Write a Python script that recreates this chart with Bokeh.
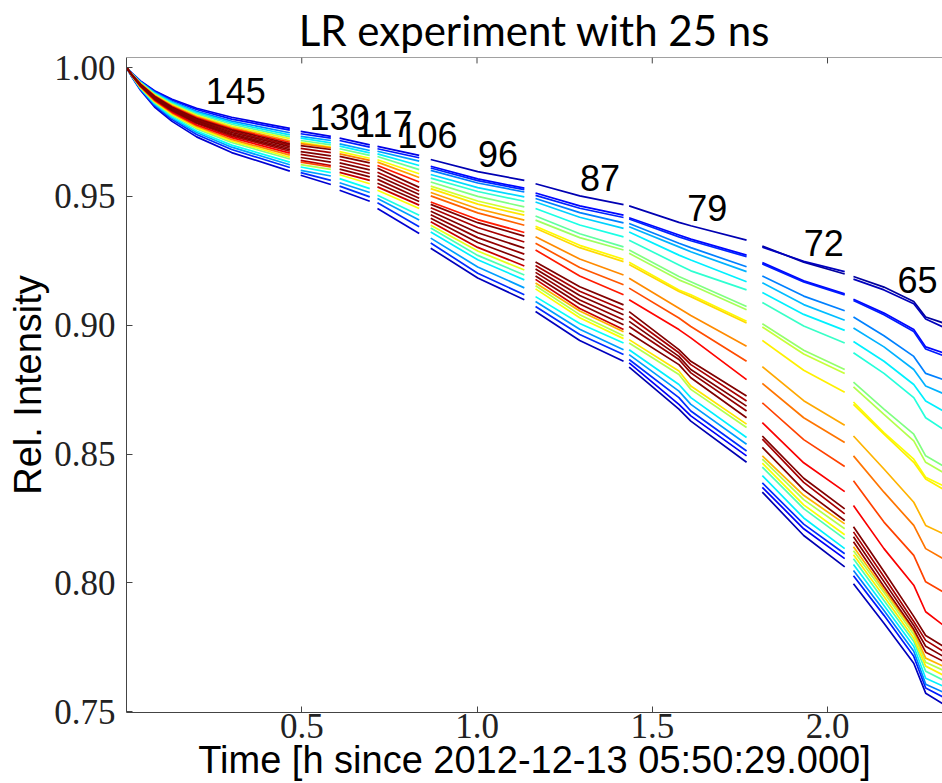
from bokeh.plotting import figure
from bokeh.models import ColumnDataSource, FixedTicker, PrintfTickFormatter, Range1d, Span
from bokeh.core.properties import value
from bokeh.embed import file_html
from bokeh.resources import INLINE

# ---- crossing-angle steps: one block of bunch curves per step ----
# times in h, relative intensity per bunch, colour index (0..1, jet) per bunch
seg1_t = [0.0, 0.015, 0.04, 0.08, 0.13, 0.20, 0.30, 0.466]
seg1_c = [0.10, 0.14, 0.25, 0.35, 0.45, 0.60, 0.72, 0.85, 1.00, 0.96, 1.00,
          0.98, 1.00, 0.95, 0.88, 0.74, 0.62, 0.50, 0.38, 0.28, 0.17, 0.08]
seg1_v = [
    [1.0, 0.9979, 0.9948, 0.9910, 0.9877, 0.9842, 0.9807, 0.9764],
    [1.0, 0.9978, 0.9946, 0.9908, 0.9873, 0.9837, 0.9800, 0.9757],
    [1.0, 0.9977, 0.9944, 0.9904, 0.9868, 0.9830, 0.9792, 0.9747],
    [1.0, 0.9977, 0.9943, 0.9901, 0.9864, 0.9825, 0.9786, 0.9739],
    [1.0, 0.9976, 0.9941, 0.9898, 0.9860, 0.9820, 0.9780, 0.9731],
    [1.0, 0.9975, 0.9939, 0.9895, 0.9856, 0.9815, 0.9773, 0.9724],
    [1.0, 0.9974, 0.9938, 0.9892, 0.9852, 0.9810, 0.9767, 0.9716],
    [1.0, 0.9974, 0.9936, 0.9890, 0.9849, 0.9806, 0.9762, 0.9710],
    [1.0, 0.9973, 0.9935, 0.9888, 0.9846, 0.9802, 0.9758, 0.9704],
    [1.0, 0.9973, 0.9934, 0.9885, 0.9843, 0.9798, 0.9753, 0.9699],
    [1.0, 0.9972, 0.9932, 0.9883, 0.9840, 0.9794, 0.9748, 0.9693],
    [1.0, 0.9972, 0.9931, 0.9881, 0.9837, 0.9790, 0.9743, 0.9687],
    [1.0, 0.9971, 0.9930, 0.9879, 0.9834, 0.9786, 0.9739, 0.9681],
    [1.0, 0.9971, 0.9929, 0.9877, 0.9831, 0.9783, 0.9734, 0.9675],
    [1.0, 0.9970, 0.9927, 0.9874, 0.9827, 0.9777, 0.9728, 0.9668],
    [1.0, 0.9969, 0.9925, 0.9871, 0.9823, 0.9772, 0.9721, 0.9660],
    [1.0, 0.9969, 0.9923, 0.9868, 0.9819, 0.9767, 0.9715, 0.9652],
    [1.0, 0.9968, 0.9922, 0.9865, 0.9815, 0.9762, 0.9709, 0.9645],
    [1.0, 0.9967, 0.9919, 0.9861, 0.9809, 0.9754, 0.9699, 0.9633],
    [1.0, 0.9966, 0.9917, 0.9857, 0.9804, 0.9748, 0.9691, 0.9623],
    [1.0, 0.9965, 0.9915, 0.9852, 0.9798, 0.9740, 0.9682, 0.9612],
    [1.0, 0.9964, 0.9912, 0.9847, 0.9791, 0.9731, 0.9670, 0.9598],
]

seg2_t = [0.497, 0.583]
seg2_c = [0.10, 0.15, 0.28, 0.36, 0.48, 0.62, 0.75, 1.00, 0.96, 1.00,
          0.98, 1.00, 0.94, 0.80, 0.55, 0.38, 0.28, 0.17, 0.08]
seg2_v = [
    [0.9752, 0.9733], [0.9743, 0.9726], [0.9733, 0.9717], [0.9726, 0.9708],
    [0.9717, 0.9700], [0.9710, 0.9691], [0.9705, 0.9688], [0.9697, 0.9682],
    [0.9686, 0.9670], [0.9674, 0.9657], [0.9663, 0.9645], [0.9651, 0.9633],
    [0.9640, 0.9620], [0.9633, 0.9614], [0.9623, 0.9605], [0.9614, 0.9592],
    [0.9601, 0.9579], [0.9592, 0.9562], [0.9582, 0.9546],
]

seg3_t = [0.608, 0.694]
seg3_c = [0.10, 0.15, 0.28, 0.36, 0.48, 0.62, 0.75, 1.00, 0.96, 1.00,
          0.98, 1.00, 0.93, 0.62, 0.38, 0.28, 0.17, 0.08]
seg3_v = [
    [0.9726, 0.9700], [0.9717, 0.9691], [0.9704, 0.9678], [0.9695, 0.9669],
    [0.9685, 0.9659], [0.9674, 0.9648], [0.9665, 0.9640], [0.9655, 0.9630],
    [0.9643, 0.9616], [0.9630, 0.9603], [0.9618, 0.9589], [0.9606, 0.9576],
    [0.9593, 0.9562], [0.9584, 0.9549], [0.9569, 0.9530], [0.9553, 0.9515],
    [0.9540, 0.9498], [0.9524, 0.9481],
]

seg4_t = [0.716, 0.835]
seg4_c = [0.10, 0.15, 0.28, 0.36, 0.48, 0.62, 0.72, 0.85, 1.00, 0.96,
          1.00, 0.98, 1.00, 0.93, 0.62, 0.40, 0.28, 0.17, 0.08]
seg4_v = [
    [0.9694, 0.9659], [0.9685, 0.9650], [0.9675, 0.9637], [0.9665, 0.9620],
    [0.9655, 0.9604], [0.9642, 0.9588], [0.9633, 0.9573], [0.9620, 0.9556],
    [0.9609, 0.9535], [0.9594, 0.9521], [0.9580, 0.9507], [0.9566, 0.9493],
    [0.9551, 0.9480], [0.9537, 0.9466], [0.9524, 0.9453], [0.9504, 0.9427],
    [0.9492, 0.9408], [0.9475, 0.9382], [0.9453, 0.9356],
]

seg5_t = [0.868, 1.002, 1.135]
seg5_c = [0.05, 0.13, 0.16, 0.25, 0.34, 0.42, 0.50, 0.58, 0.65, 0.72, 0.78, 0.85,
          1.00, 0.96, 1.00, 0.98, 1.00, 0.93, 0.60, 0.45, 0.36, 0.28, 0.17, 0.06]
seg5_v = [
    [0.9643, 0.9596, 0.9562], [0.9617, 0.9568, 0.9532], [0.9610, 0.9561, 0.9526],
    [0.9601, 0.9552, 0.9517], [0.9585, 0.9534, 0.9498], [0.9571, 0.9519, 0.9481],
    [0.9556, 0.9500, 0.9459], [0.9540, 0.9482, 0.9440], [0.9530, 0.9470, 0.9427],
    [0.9515, 0.9452, 0.9408], [0.9502, 0.9436, 0.9388], [0.9478, 0.9410, 0.9360],
    [0.9469, 0.9398, 0.9346], [0.9456, 0.9379, 0.9323], [0.9442, 0.9359, 0.9299],
    [0.9429, 0.9340, 0.9276], [0.9415, 0.9321, 0.9253], [0.9402, 0.9302, 0.9230],
    [0.9388, 0.9288, 0.9214], [0.9377, 0.9271, 0.9195], [0.9362, 0.9254, 0.9176],
    [0.9338, 0.9226, 0.9145], [0.9319, 0.9202, 0.9118], [0.9299, 0.9183, 0.9099],
]

seg6_t = [1.167, 1.293, 1.418]
seg6_c = [0.05, 0.13, 0.16, 0.25, 0.33, 0.40, 0.47, 0.53, 0.63, 0.66, 0.74, 0.79, 0.85,
          1.00, 0.96, 1.00, 0.98, 1.00, 0.93, 0.70, 0.55, 0.62, 0.38, 0.28, 0.17, 0.06]
seg6_v = [
    [0.9549, 0.9502, 0.9468], [0.9513, 0.9463, 0.9427], [0.9504, 0.9454, 0.9418],
    [0.9492, 0.9437, 0.9397], [0.9478, 0.9419, 0.9376], [0.9453, 0.9389, 0.9343],
    [0.9424, 0.9355, 0.9304], [0.9408, 0.9340, 0.9292], [0.9384, 0.9310, 0.9256],
    [0.9376, 0.9301, 0.9247], [0.9343, 0.9257, 0.9195], [0.9318, 0.9224, 0.9157],
    [0.9292, 0.9191, 0.9118], [0.9245, 0.9149, 0.9079], [0.9232, 0.9132, 0.9060],
    [0.9218, 0.9115, 0.9041], [0.9205, 0.9098, 0.9021], [0.9191, 0.9082, 0.9002],
    [0.9178, 0.9065, 0.8983], [0.9164, 0.9055, 0.8975], [0.9153, 0.9041, 0.8959],
    [0.9141, 0.9029, 0.8948], [0.9111, 0.9007, 0.8931], [0.9092, 0.8984, 0.8905],
    [0.9073, 0.8964, 0.8886], [0.9053, 0.8941, 0.8860],
]

seg7_t = [1.434, 1.576, 1.610, 1.769]
seg7_c = [0.05, 0.13, 0.16, 0.25, 0.30, 0.36, 0.42, 0.50, 0.54, 0.63, 0.66, 0.74, 0.80,
          0.87, 1.00, 0.96, 1.00, 0.98, 1.00, 0.65, 0.55, 0.36, 0.28, 0.17, 0.12, 0.05]
seg7_v = [
    [0.9463, 0.9399, 0.9386, 0.9330], [0.9417, 0.9350, 0.9334, 0.9272],
    [0.9412, 0.9343, 0.9328, 0.9266], [0.9395, 0.9318, 0.9301, 0.9227],
    [0.9382, 0.9304, 0.9285, 0.9208], [0.9362, 0.9272, 0.9253, 0.9169],
    [0.9330, 0.9234, 0.9211, 0.9137], [0.9292, 0.9189, 0.9169, 0.9073],
    [0.9279, 0.9176, 0.9157, 0.9060], [0.9244, 0.9137, 0.9118, 0.9015],
    [0.9236, 0.9131, 0.9111, 0.9009], [0.9182, 0.9066, 0.9038, 0.8918],
    [0.9144, 0.9028, 0.8995, 0.8860], [0.9099, 0.8983, 0.8951, 0.8789],
    [0.9053, 0.8905, 0.8860, 0.8725], [0.9034, 0.8893, 0.8847, 0.8706],
    [0.9015, 0.8879, 0.8828, 0.8686], [0.8995, 0.8867, 0.8815, 0.8667],
    [0.8970, 0.8847, 0.8796, 0.8641], [0.8944, 0.8822, 0.8764, 0.8616],
    [0.8931, 0.8809, 0.8751, 0.8603], [0.8905, 0.8770, 0.8719, 0.8564],
    [0.8886, 0.8744, 0.8693, 0.8538], [0.8867, 0.8719, 0.8667, 0.8512],
    [0.8854, 0.8693, 0.8648, 0.8493], [0.8837, 0.8674, 0.8628, 0.8468],
]

seg8_t = [1.814, 1.932, 2.049]
seg8_c = [0.03, 0.06, 0.13, 0.15, 0.25, 0.31, 0.36, 0.43, 0.52, 0.57, 0.64, 0.71, 0.76,
          0.81, 0.88, 1.00, 0.96, 1.00, 0.70, 0.55, 0.62, 0.45, 0.36, 0.17, 0.12, 0.05]
seg8_v = [
    [0.9307, 0.9245, 0.9199], [0.9303, 0.9248, 0.9208], [0.9243, 0.9172, 0.9122],
    [0.9238, 0.9168, 0.9118], [0.9191, 0.9113, 0.9056], [0.9165, 0.9080, 0.9019],
    [0.9127, 0.9042, 0.8980], [0.9088, 0.8997, 0.8931], [0.9006, 0.8903, 0.8828],
    [0.8993, 0.8888, 0.8813], [0.8941, 0.8825, 0.8740], [0.8839, 0.8707, 0.8612],
    [0.8774, 0.8641, 0.8545], [0.8699, 0.8556, 0.8452], [0.8622, 0.8466, 0.8354],
    [0.8570, 0.8406, 0.8287], [0.8558, 0.8390, 0.8268], [0.8526, 0.8361, 0.8242],
    [0.8493, 0.8340, 0.8229], [0.8480, 0.8323, 0.8210], [0.8465, 0.8303, 0.8187],
    [0.8449, 0.8288, 0.8171], [0.8416, 0.8252, 0.8133], [0.8388, 0.8228, 0.8113],
    [0.8371, 0.8210, 0.8094], [0.8352, 0.8184, 0.8062],
]

seg9_t = [2.074, 2.161, 2.246, 2.280, 2.330]
seg9_c = [0.03, 0.06, 0.13, 0.15, 0.25, 0.30, 0.36, 0.41, 0.50, 0.55, 0.62, 0.64, 0.70, 0.76,
          0.81, 0.88, 1.00, 0.96, 1.00, 0.98, 0.70, 0.55, 0.64, 0.45, 0.36, 0.25, 0.15, 0.06]
seg9_v = [
    [0.9189, 0.9148, 0.9092, 0.9032, 0.9009], [0.9179, 0.9137, 0.9083, 0.9024, 0.8993],
    [0.9101, 0.9047, 0.8983, 0.8916, 0.8893], [0.9096, 0.9041, 0.8976, 0.8908, 0.8882],
    [0.9032, 0.8959, 0.8879, 0.8813, 0.8789], [0.8989, 0.8916, 0.8828, 0.8764, 0.8735],
    [0.8937, 0.8860, 0.8770, 0.8706, 0.8667], [0.8893, 0.8813, 0.8719, 0.8641, 0.8596],
    [0.8779, 0.8674, 0.8577, 0.8493, 0.8454], [0.8761, 0.8654, 0.8551, 0.8468, 0.8429],
    [0.8702, 0.8583, 0.8480, 0.8410, 0.8377], [0.8693, 0.8577, 0.8468, 0.8403, 0.8364],
    [0.8570, 0.8442, 0.8313, 0.8223, 0.8191], [0.8493, 0.8352, 0.8223, 0.8133, 0.8094],
    [0.8396, 0.8236, 0.8107, 0.8004, 0.7965], [0.8300, 0.8133, 0.7991, 0.7888, 0.7836],
    [0.8218, 0.8044, 0.7870, 0.7796, 0.7754], [0.8198, 0.8024, 0.7850, 0.7777, 0.7735],
    [0.8179, 0.8005, 0.7835, 0.7754, 0.7715], [0.8160, 0.7986, 0.7820, 0.7731, 0.7696],
    [0.8140, 0.7974, 0.7812, 0.7708, 0.7677], [0.8125, 0.7963, 0.7800, 0.7692, 0.7661],
    [0.8109, 0.7947, 0.7785, 0.7677, 0.7642], [0.8094, 0.7932, 0.7773, 0.7657, 0.7623],
    [0.8071, 0.7912, 0.7754, 0.7630, 0.7599], [0.8048, 0.7893, 0.7735, 0.7607, 0.7576],
    [0.8028, 0.7874, 0.7715, 0.7592, 0.7557], [0.7997, 0.7843, 0.7688, 0.7572, 0.7530],
]

# crossing angle of each step, printed above its block
step_labels = ["145", "130", "117", "106", "96", "87", "79", "72", "65"]
step_label_t = [0.312, 0.608, 0.734, 0.859, 1.060, 1.351, 1.657, 1.989, 2.257]
step_label_y = [0.9910, 0.9807, 0.9782, 0.9740, 0.9663, 0.9572, 0.9453, 0.9321, 0.9176]

x_ticks = [0.5, 1.0, 1.5, 2.0]
y_ticks = [0.75, 0.80, 0.85, 0.90, 0.95, 1.00]

X_MIN, X_MAX = 0.0, 2.328
Y_MIN, Y_MAX = 0.7497, 1.0039


def jet(c):
    """matplotlib-style 'jet' colour for c in [0, 1]."""
    def ch(v):
        return int(round(255 * min(max(v, 0.0), 1.0)))
    r = ch(1.5 - abs(4 * c - 3))
    g = ch(1.5 - abs(4 * c - 2))
    b = ch(1.5 - abs(4 * c - 1))
    return "#%02x%02x%02x" % (r, g, b)


segments = [
    (seg1_t, seg1_c, seg1_v), (seg2_t, seg2_c, seg2_v), (seg3_t, seg3_c, seg3_v),
    (seg4_t, seg4_c, seg4_v), (seg5_t, seg5_c, seg5_v), (seg6_t, seg6_c, seg6_v),
    (seg7_t, seg7_c, seg7_v), (seg8_t, seg8_c, seg8_v), (seg9_t, seg9_c, seg9_v),
]

xs, ys, colors = [], [], []
for t, cs, vs in segments:
    # draw in colour order so the late (dark red) bunches end up on top
    for c, v in sorted(zip(cs, vs), key=lambda item: item[0]):
        xs.append(list(t))
        ys.append(list(v))
        colors.append(jet(c))

src = ColumnDataSource(data=dict(xs=xs, ys=ys, color=colors))

p = figure(
    width=942, height=783,
    x_range=Range1d(X_MIN, X_MAX), y_range=Range1d(Y_MIN, Y_MAX),
    output_backend="svg", toolbar_location=None,
    min_border_left=126, min_border_right=0, min_border_top=57, min_border_bottom=69,
)
p.background_fill_color = "white"
p.border_fill_color = "white"
p.outline_line_color = None
p.xgrid.visible = False
p.ygrid.visible = False

p.multi_line(xs="xs", ys="ys", line_color="color", line_width=1.7, source=src)

p.text(x=step_label_t, y=step_label_y, text=step_labels,
       text_font=value("Liberation Sans"), text_font_size="36px",
       text_align="center", text_baseline="middle", text_color="black")

# title
p.title.text = "LR experiment with 25 ns"
p.title.align = "center"
p.title.vertical_align = "top"
p.title.text_font = "Lato"
p.title.text_font_size = "42px"
p.title.text_font_style = "normal"
p.title.text_color = "black"
p.title.standoff = 2

tick_font = "Liberation Serif"
spine = "#444444"

xa = p.xaxis[0]
xa.ticker = FixedTicker(ticks=x_ticks)
xa.formatter = PrintfTickFormatter(format="%.1f")
xa.major_label_text_font = tick_font
xa.major_label_text_font_size = "35px"
xa.major_label_text_color = "#222222"
xa.major_label_standoff = 1
xa.major_tick_in = 6
xa.major_tick_out = 0
xa.minor_tick_line_color = None
xa.axis_line_color = spine
xa.major_tick_line_color = spine
xa.axis_label = "Time [h since 2012-12-13 05:50:29.000]"
xa.axis_label_text_font = "Liberation Sans"
xa.axis_label_text_font_size = "38px"
xa.axis_label_text_font_style = "normal"
xa.axis_label_text_color = "black"
xa.axis_label_standoff = -2

ya = p.yaxis[0]
ya.ticker = FixedTicker(ticks=y_ticks)
ya.formatter = PrintfTickFormatter(format="%.2f")
ya.major_label_text_font = tick_font
ya.major_label_text_font_size = "35px"
ya.major_label_text_color = "#222222"
ya.major_label_standoff = 11
ya.major_tick_in = 6
ya.major_tick_out = 0
ya.minor_tick_line_color = None
ya.axis_line_color = spine
ya.major_tick_line_color = spine
ya.axis_label = "Rel. Intensity"
ya.axis_label_text_font = "Liberation Sans"
ya.axis_label_text_font_size = "38px"
ya.axis_label_text_font_style = "normal"
ya.axis_label_text_color = "black"
ya.axis_label_standoff = 2

# top spine with inward ticks
p.add_layout(Span(location=Y_MAX, dimension="width", line_color=spine, line_width=1))
tick_len = 0.0023
p.segment(x0=x_ticks, y0=[Y_MAX] * len(x_ticks), x1=x_ticks,
          y1=[Y_MAX - tick_len] * len(x_ticks), line_color=spine, line_width=1)

open("out.html", "w").write(file_html(p, INLINE))
